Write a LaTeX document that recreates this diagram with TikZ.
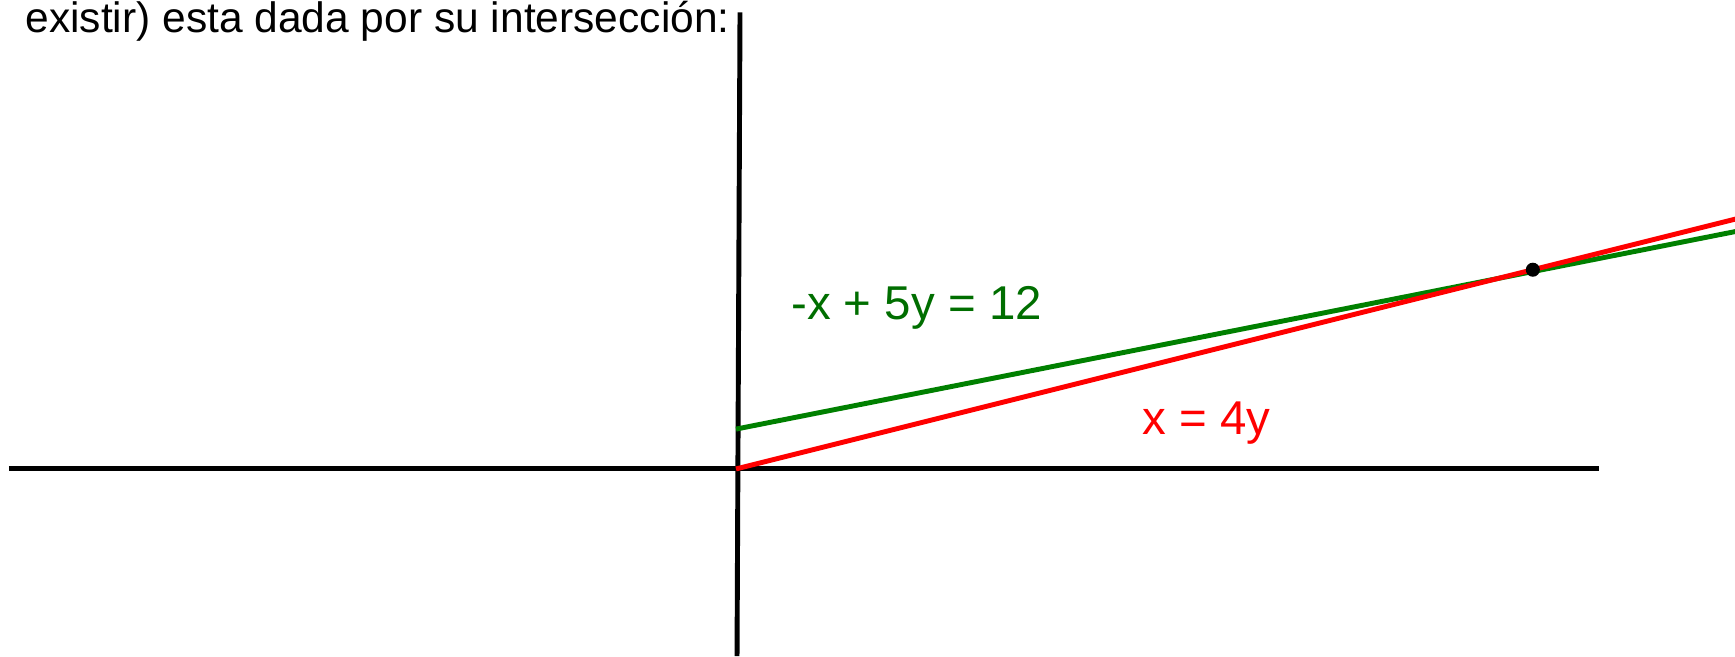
\documentclass[tikz,border=0pt]{standalone}
\usepackage{fontspec}
\setmainfont{Liberation Sans}
\usepackage{tikz}
\usetikzlibrary{arrows.meta,positioning,calc}
\definecolor{lgreen}{RGB}{0,128,0}
\definecolor{tgreen}{RGB}{0,110,0}

\begin{document}
\begin{tikzpicture}[>=Stealth,x=0.332cm,y=0.332cm]
\tikzstyle{axis}=[line width=2.8pt,black]
\tikzstyle{graph}=[line width=2.8pt]
\tikzstyle{lbl}=[anchor=base west,inner sep=0pt,font=\fontsize{27}{32}\selectfont]
\useasboundingbox (-44.34,-11.27) rectangle (60.18,28.25);
\coordinate (xl) at (-43.8,0);
\coordinate (xr) at (52.0,0);
\coordinate (yb) at (0.06,-11.27);
\coordinate (yt) at (0.24,27.5);
\coordinate (o) at (0,0);
\coordinate (re) at (60.2,15.05);
\coordinate (gs) at (0,2.4);
\coordinate (ge) at (60.2,14.3);
\draw[axis] (xl) -- (xr);
\draw[axis] (yb) -- (yt);
\draw[graph,lgreen] (gs) -- (ge);
\draw[graph,red] (o) -- (re);
\node[circle,fill=black,inner sep=0pt,minimum size=8pt] (p) at (48,12) {};
\node[lbl,text=tgreen] (eqg) at (3.31,8.98) {-x + 5y = 12};
\node[lbl,text=red] (eqr) at (24.46,2.05) {x = 4y};
\node[anchor=base west,inner sep=0pt,font=\fontsize{24.2}{29}\selectfont] (txt) at (-42.83,26.27) {existir) esta dada por su intersección:};
\end{tikzpicture}
\end{document}
